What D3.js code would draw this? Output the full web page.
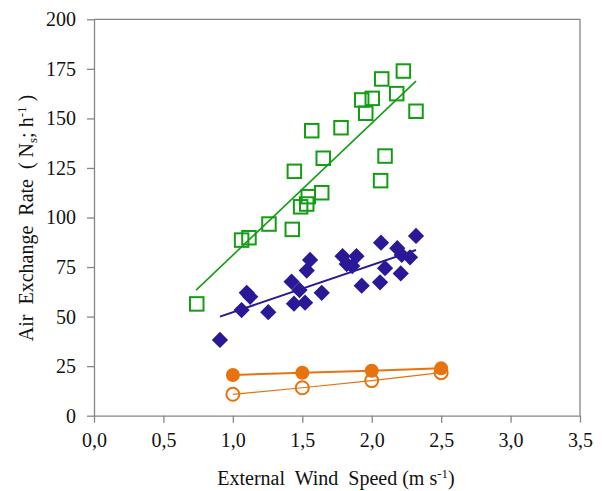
<!DOCTYPE html>
<html>
<head>
<meta charset="utf-8">
<script src="https://cdn.jsdelivr.net/npm/d3@7"></script>
<style>
  html, body { margin: 0; padding: 0; background: #fff; }
  svg text { font-family: "Liberation Serif", "Times New Roman", serif; fill: #111; }
</style>
</head>
<body>
<svg id="chart" width="602" height="491"></svg>
<script>
// Wind speed (m/s) vs. air exchange rate (Ns, h-1)
const squaresX = [2.228, 2.072, 2.18, 2.004, 1.928, 1.957, 2.319, 1.568, 1.779, 1.651, 2.096,
                  1.443, 2.064, 1.64, 1.543, 1.532, 1.488, 1.26, 1.428, 1.063, 1.116, 0.74];
const squaresY = [173.9, 169.9, 162.5, 160.1, 159.3, 152.6, 153.6, 143.8, 145.3, 129.9, 131.0,
                  123.3, 118.6, 112.5, 110.5, 106.8, 105.4, 96.7, 94.0, 88.6, 89.8, 56.4];

const diamondsX = [0.907, 1.063, 1.10, 1.125, 1.255, 1.423, 1.48, 1.44, 1.52, 1.532, 1.556,
                   1.64, 1.79, 1.82, 1.86, 1.89, 1.928, 2.067, 2.096, 2.06, 2.184, 2.216,
                   2.276, 2.209, 2.319];
const diamondsY = [38.2, 53.3, 62.0, 60.0, 52.2, 67.6, 63.4, 56.5, 57.0, 73.2, 78.6,
                   62.0, 80.5, 76.5, 75.5, 80.5, 65.6, 87.3, 74.4, 67.3, 84.5, 81.1,
                   79.9, 71.8, 90.7];

const windSteps = [1.0, 1.5, 2.0, 2.5];
const filledCircles = [20.5, 21.7, 22.7, 23.9];
const openCircles = [10.8, 14.1, 17.7, 21.7];

// linear fits: [intercept, slope, xStart, xEnd]
const squaresFit = [14.4, 66.6, 0.735, 2.319];
const diamondsFit = [28.4, 23.8, 0.907, 2.319];

const xTicks = [0, 0.5, 1, 1.5, 2, 2.5, 3, 3.5];
const yTicks = [0, 25, 50, 75, 100, 125, 150, 175, 200];

const GREEN = "#149c14", BLUE = "#2a1996", ORANGE = "#e8720e", AXIS = "#868686";
const FONT = 20;

const svg = d3.select("#chart");
const plotL = 94, plotR = 580, plotT = 19.3, plotB = 415.7;

const x = d3.scaleLinear().domain([0, 3.5]).range([plotL, plotR]);
const y = d3.scaleLinear().domain([0, 200]).range([plotB, plotT]);
const fmt = d => d3.format(".1f")(d).replace(".", ",");

// frame (top and right edges)
svg.append("path")
  .attr("d", `M${plotL},${plotT}H${plotR}V${plotB}`)
  .attr("fill", "none").attr("stroke", AXIS).attr("stroke-width", 1.3);

// x axis
const gx = svg.append("g").attr("transform", `translate(0,${plotB})`)
  .call(d3.axisBottom(x).tickValues(xTicks).tickFormat(fmt).tickSize(7).tickSizeOuter(0).tickPadding(10));
// y axis
const gy = svg.append("g").attr("transform", `translate(${plotL},0)`)
  .call(d3.axisLeft(y).tickValues(yTicks).tickSize(7).tickSizeOuter(0).tickPadding(11));
[gx, gy].forEach(g => {
  g.select(".domain").attr("stroke", AXIS).attr("stroke-width", 1.3);
  g.selectAll(".tick line").attr("stroke", AXIS).attr("stroke-width", 1.3);
  g.selectAll(".tick text").attr("font-size", FONT)
    .style("font-family", "'Liberation Serif', serif").attr("fill", "#111");
});

// axis titles
const xt = svg.append("text").attr("x", 336).attr("y", 485)
  .attr("text-anchor", "middle").attr("font-size", FONT).style("white-space", "pre");
xt.append("tspan").text("External  Wind  Speed (m s");
xt.append("tspan").attr("font-size", 13).attr("dy", -7).text("-1");
xt.append("tspan").attr("dy", 7).text(")");

const yt = svg.append("text")
  .attr("transform", "translate(33,218) rotate(-90)")
  .attr("text-anchor", "middle").attr("font-size", FONT).style("white-space", "pre");
yt.append("tspan").text("Air  Exchange  Rate  ( N");
yt.append("tspan").attr("font-size", 13).attr("dy", 4).text("s");
yt.append("tspan").attr("dy", -4).text("; h");
yt.append("tspan").attr("font-size", 13).attr("dy", -7).text("-1");
yt.append("tspan").attr("dy", 7).text(" )");

// trend lines
function fitLine(fit, color, width) {
  const [b, m, x0, x1] = fit;
  svg.append("line")
    .attr("x1", x(x0)).attr("y1", y(b + m * x0))
    .attr("x2", x(x1)).attr("y2", y(b + m * x1))
    .attr("stroke", color).attr("stroke-width", width);
}
fitLine(squaresFit, GREEN, 1.6);
fitLine(diamondsFit, BLUE, 2);

// diamonds
const diamond = d3.symbol().type(d3.symbolSquare).size(132)();
svg.append("g").selectAll("path").data(diamondsX.map((d, i) => [d, diamondsY[i]]))
  .join("path")
  .attr("d", diamond)
  .attr("transform", d => `translate(${x(d[0])},${y(d[1])}) rotate(45)`)
  .attr("fill", BLUE);

// squares (open)
svg.append("g").selectAll("rect").data(squaresX.map((d, i) => [d, squaresY[i]]))
  .join("rect")
  .attr("x", d => x(d[0]) - 6.75).attr("y", d => y(d[1]) - 6.75)
  .attr("width", 13.5).attr("height", 13.5)
  .attr("fill", "none").attr("stroke", GREEN).attr("stroke-width", 2);

// orange series
const line = d3.line().x(d => x(d[0])).y(d => y(d[1]));
const filledPts = windSteps.map((w, i) => [w, filledCircles[i]]);
const openPts = windSteps.map((w, i) => [w, openCircles[i]]);

svg.append("path").attr("d", line(openPts)).attr("fill", "none")
  .attr("stroke", ORANGE).attr("stroke-width", 1.2);
svg.append("g").selectAll("circle").data(openPts).join("circle")
  .attr("cx", d => x(d[0])).attr("cy", d => y(d[1])).attr("r", 6.5)
  .attr("fill", "none").attr("stroke", ORANGE).attr("stroke-width", 2);

svg.append("path").attr("d", line(filledPts)).attr("fill", "none")
  .attr("stroke", ORANGE).attr("stroke-width", 2);
svg.append("g").selectAll("circle").data(filledPts).join("circle")
  .attr("cx", d => x(d[0])).attr("cy", d => y(d[1])).attr("r", 7)
  .attr("fill", ORANGE);
</script>
</body>
</html>
